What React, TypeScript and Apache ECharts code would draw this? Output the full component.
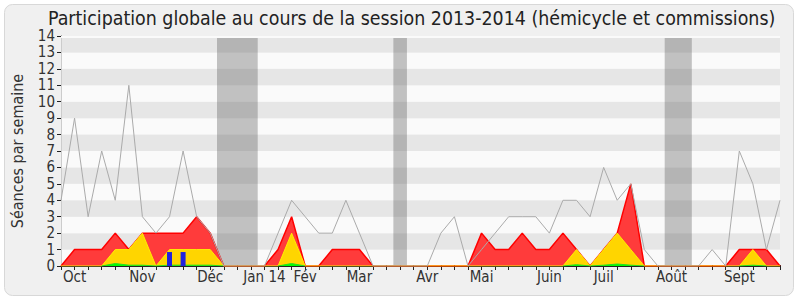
import React, { useEffect, useRef } from "react";
import * as echarts from "echarts";

const weeks: number[] = Array.from({ length: 54 }, (_, i) => i);

const monthLabels: Record<number, string> = {
  1: "Oct", 6: "Nov", 11: "Déc", 15: "Jan 14", 18: "Fév", 22: "Mar",
  27: "Avr", 31: "Mai", 36: "Juin", 40: "Juil", 45: "Août", 50: "Sept",
};

const totalSeances = [4, 9, 3, 7, 4, 11, 3, 2, 3, 7, 3, 2, 0, 0, 0, 0, 2, 4, 3, 2, 2, 4, 2, 0, 0, 0, 0, 0, 2, 3, 0, 1, 2, 3, 3, 3, 2, 4, 4, 3, 6, 4, 5, 1, 0, 0, 0, 0, 1, 0, 7, 5, 1, 4];

const presences = [0, 1, 1, 1, 2, 1, 2, 2, 2, 2, 3, 2, 0, 0, 0, 0, 1, 3, 0, 0, 1, 1, 1, 0, 0, 0, 0, 0, 0, 0, 0, 2, 1, 1, 2, 1, 1, 2, 1, 0, 1, 2, 5, 0, 0, 0, 0, 0, 0, 0, 1, 1, 1, 0];

const participations = [0, 0, 0, 0, 1, 1, 2, 0, 1, 1, 1, 1, 0, 0, 0, 0, 0, 2, 0, 0, 0, 0, 0, 0, 0, 0, 0, 0, 0, 0, 0, 0, 0, 0, 0, 0, 0, 0, 1, 0, 1, 2, 1, 0, 0, 0, 0, 0, 0, 0, 0, 1, 0, 0];

const interventions: (number | string)[] = ["-", "-", "-", 0, 0.15, 0.05, 0.05, 0, 0.05, 0.05, 0.05, 0.05, 0, "-", "-", "-", 0, 0.15, 0, "-", "-", "-", "-", "-", "-", "-", "-", "-", "-", "-", "-", "-", "-", "-", "-", "-", "-", 0, 0.08, 0, 0.05, 0.12, 0.05, 0, "-", "-", "-", "-", "-", "-", 0, 0.05, 0, "-"];

const questions: (number | string)[] = ["-", "-", "-", "-", "-", "-", "-", "-", 0.85, 0.85, "-", "-", "-", "-", "-", "-", "-", "-", "-", "-", "-", "-", "-", "-", "-", "-", "-", "-", "-", "-", "-", "-", "-", "-", "-", "-", "-", "-", "-", "-", "-", "-", "-", "-", "-", "-", "-", "-", "-", "-", "-", "-", "-", "-"];

const vacances: [number, number][] = [[11.5, 14.5], [24.5, 25.5], [44.5, 46.5]];

const FONT = "'DejaVu Sans Condensed', 'DejaVu Sans', sans-serif";

export default function App() {
  const ref = useRef<HTMLDivElement>(null);
  useEffect(() => {
    if (!ref.current) return;
    const chart = echarts.init(ref.current, undefined, { renderer: "svg" });
    const pair = (v: (number | string)[]) => weeks.map((w, i) => [w, v[i]]);
    chart.setOption({
      animation: false,
      backgroundColor: "#ffffff",
      textStyle: { fontFamily: FONT },
      graphic: [
        {
          type: "rect",
          z: -10,
          shape: { x: 4.5, y: 4.5, width: 789, height: 291, r: 8 },
          style: { fill: "#f0f0f0", stroke: "#d8d8d8", lineWidth: 1 },
        },
      ],
      title: {
        text: "Participation globale au cours de la session 2013-2014 (hémicycle et commissions)",
        left: 48,
        top: 9,
        padding: 0,
        textStyle: { fontFamily: FONT, fontSize: 19.4, fontWeight: "normal", color: "#222" },
      },
      grid: { left: 61, right: 20, top: 36, bottom: 34 },
      xAxis: [
        {
          type: "value",
          min: 0,
          max: 53,
          interval: 1,
          axisLine: { show: true, lineStyle: { color: "#222", width: 1 } },
          axisTick: { show: true, length: 4, lineStyle: { color: "#222" } },
          splitLine: { show: false },
          axisLabel: {
            fontFamily: FONT,
            fontSize: 15,
            color: "#333",
            margin: 3,
            formatter: (v: number) => monthLabels[Math.round(v)] || "",
            showMinLabel: true,
            showMaxLabel: true,
          },
        },
        {
          type: "value",
          position: "top",
          min: 0,
          max: 53,
          interval: 1,
          axisLine: { show: false },
          axisTick: { show: true, length: 1, lineStyle: { color: "#333" } },
          axisLabel: { show: false },
          splitLine: { show: false },
        },
      ],
      yAxis: [
        {
          type: "value",
          min: 0,
          max: 14,
          interval: 1,
          name: "Séances par semaine",
          nameLocation: "middle",
          nameGap: 36,
          nameRotate: 90,
          nameTextStyle: { fontFamily: FONT, fontSize: 16, color: "#333" },
          axisLine: { show: true, lineStyle: { color: "#222" } },
          axisTick: { show: true, length: 4, lineStyle: { color: "#222" } },
          axisLabel: { fontFamily: FONT, fontSize: 15, color: "#333", margin: 6 },
          splitLine: { show: false },
          splitArea: { show: true, areaStyle: { color: ["#fafafa", "#e6e6e6"] } },
        },
        {
          type: "value",
          position: "right",
          min: 0,
          max: 14,
          interval: 1,
          axisLine: { show: true, lineStyle: { color: "#cccccc" } },
          axisTick: { show: false },
          axisLabel: { show: false },
          splitLine: { show: false },
        },
      ],
      series: [
        {
          name: "vacances",
          type: "line",
          data: [],
          z: 1,
          markArea: {
            silent: true,
            itemStyle: { color: "rgba(80,80,80,0.33)" },
            data: vacances.map(([a, b]) => [{ xAxis: a }, { xAxis: b }]),
          },
        },
        {
          name: "bandeau",
          type: "line",
          data: [],
          z: 1,
          markArea: {
            silent: true,
            itemStyle: { color: "#fafafa" },
            data: [[{ yAxis: 13.88 }, { yAxis: 14 }]],
          },
        },
        {
          name: "Présences",
          type: "line",
          data: pair(presences),
          symbol: "none",
          z: 2,
          lineStyle: { color: "#ff0000", width: 1.5 },
          areaStyle: { color: "#ff3b3b", opacity: 1 },
        },
        {
          name: "Participations",
          type: "line",
          data: pair(participations),
          symbol: "none",
          z: 3,
          lineStyle: { color: "#ffee00", width: 1 },
          areaStyle: { color: "#ffd500", opacity: 1 },
        },
        {
          name: "Interventions",
          type: "line",
          data: pair(interventions),
          symbol: "none",
          z: 4,
          connectNulls: false,
          lineStyle: { color: "#22dd22", width: 1 },
          areaStyle: { color: "#00ff00", opacity: 1 },
        },
        {
          name: "Questions",
          type: "bar",
          data: pair(questions),
          barWidth: 5,
          z: 5,
          itemStyle: { color: "#2222dd" },
        },
        {
          name: "Total",
          type: "line",
          data: pair(totalSeances),
          symbol: "none",
          z: 6,
          lineStyle: { color: "#aaaaaa", width: 1 },
        },
      ],
    });
    return () => chart.dispose();
  }, []);
  return (
    <div
      ref={ref}
      style={{ position: "fixed", left: 0, top: 0, width: 800, height: 300 }}
    />
  );
}
